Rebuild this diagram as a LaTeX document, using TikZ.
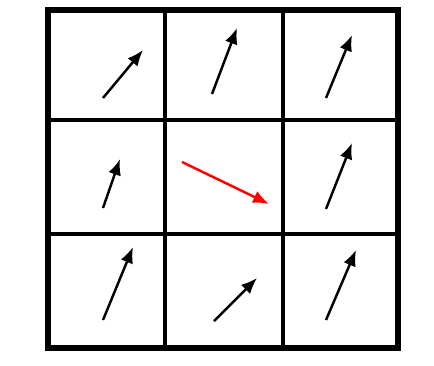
\documentclass[tikz,border=0pt]{standalone}
\usepackage{tikz}
\usetikzlibrary{arrows.meta}

\begin{document}
\begin{tikzpicture}[x=0.2mm, y=-0.2mm,
  vec/.style={line width=1.4pt, -{Latex[length=3.2mm,width=2.6mm]}},
  gridline/.style={line width=2pt},
  frame/.style={line width=3.6pt}]
\useasboundingbox (0,0) rectangle (434,365);

% grid
\draw[gridline] (165,10) -- (165,348);
\draw[gridline] (283,10) -- (283,348);
\draw[gridline] (48,120) -- (398,120);
\draw[gridline] (48,234) -- (398,234);
\draw[frame] (48,10) rectangle (398,348);

% top row
\draw[vec] (103,98) -- (143,50);
\draw[vec] (212,94) -- (237,28);
\draw[vec] (326,98) -- (352,35);

% middle row
\draw[vec] (103,208) -- (120,159);
\draw[vec, red] (182,162) -- (269,204);
\draw[vec] (326,209) -- (352,143);

% bottom row
\draw[vec] (103,320) -- (133,247);
\draw[vec] (214,321) -- (257,278);
\draw[vec] (326,320) -- (356,250);
\end{tikzpicture}
\end{document}
